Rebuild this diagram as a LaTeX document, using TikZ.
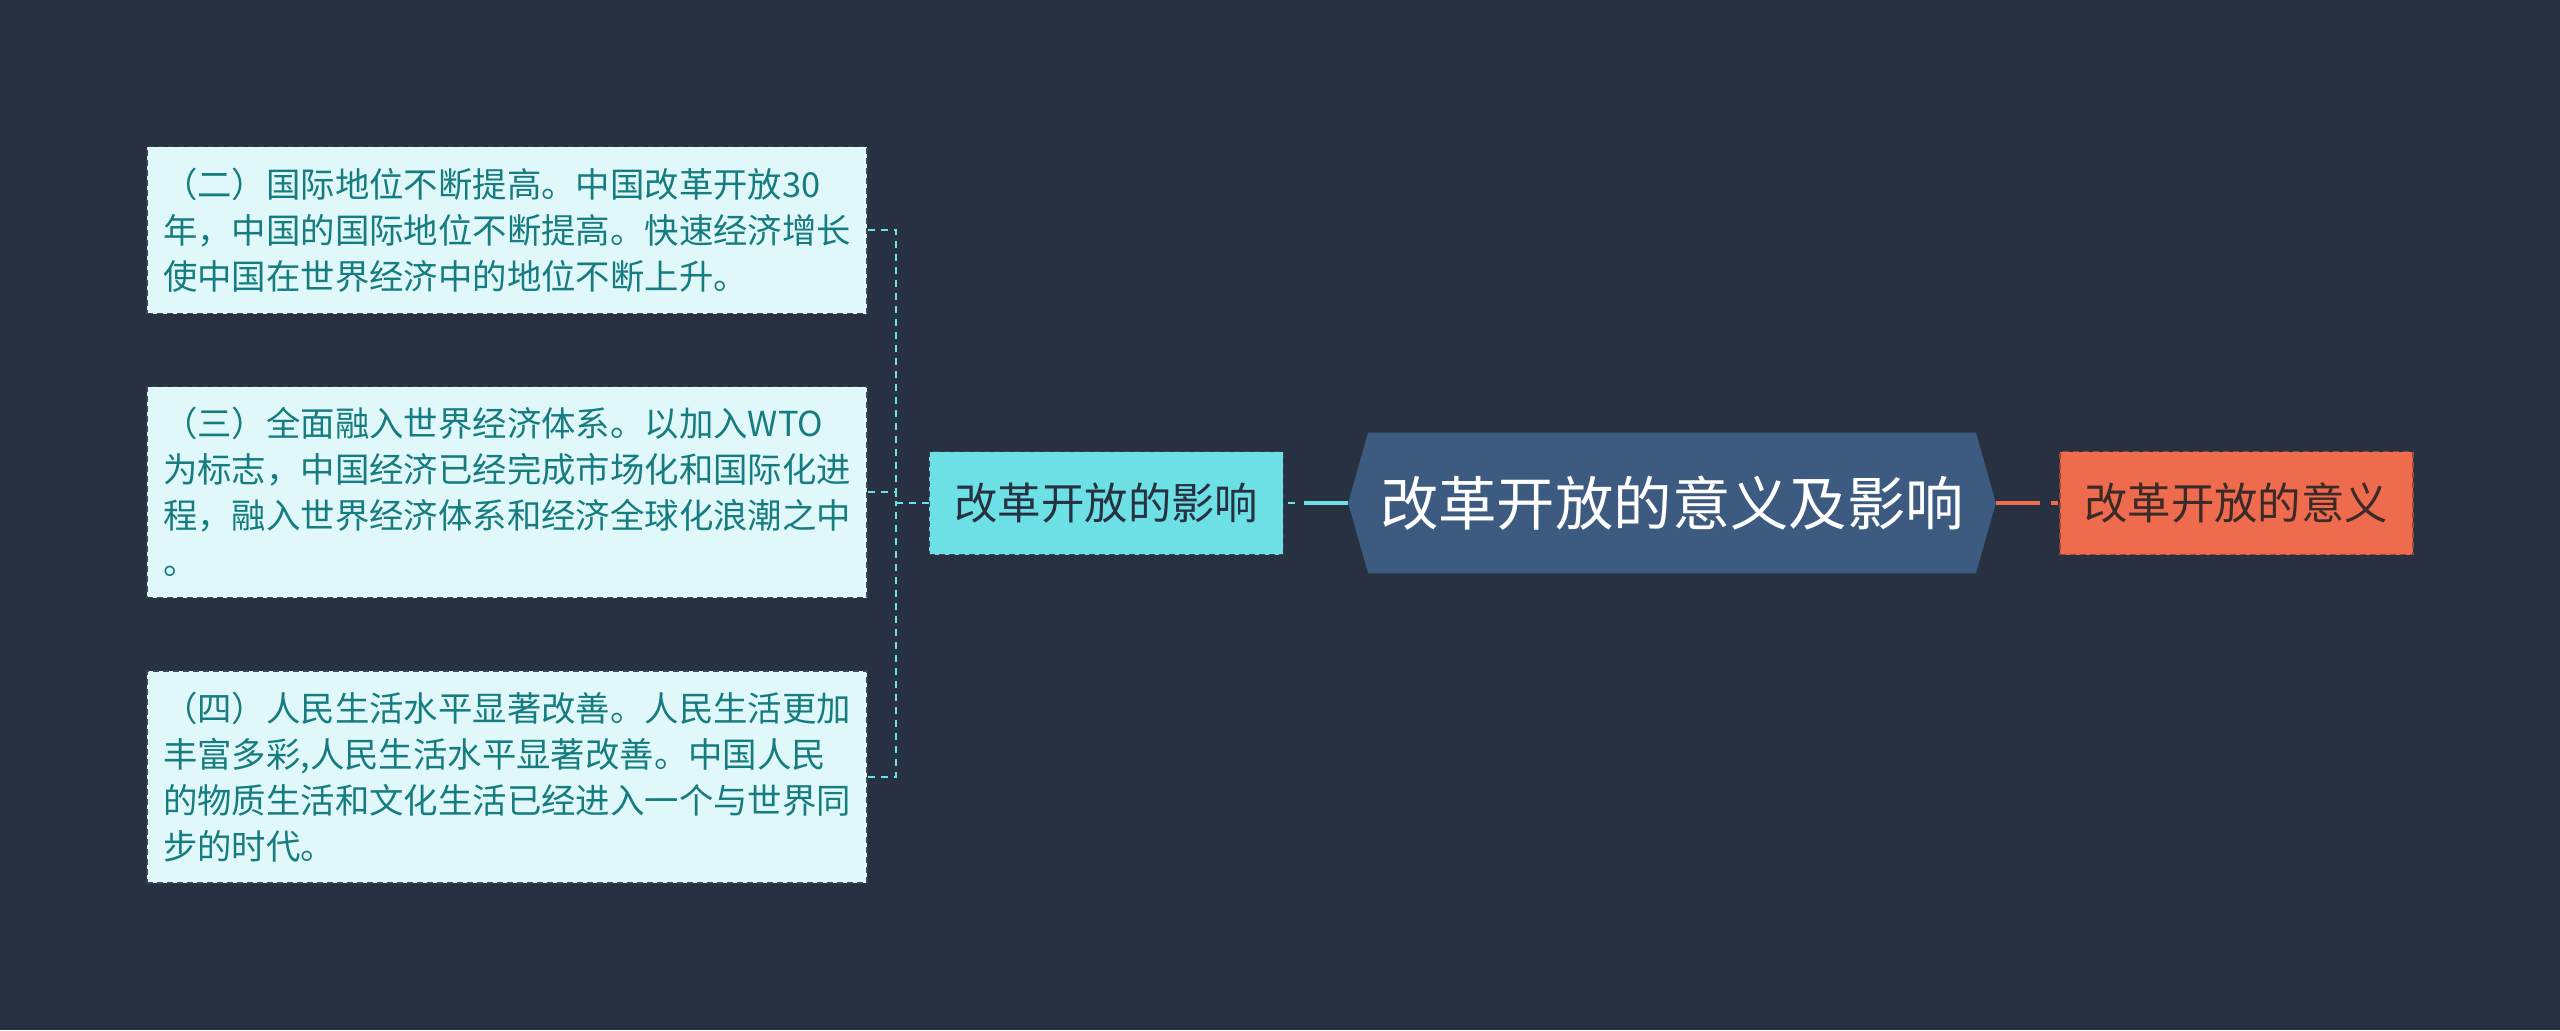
\documentclass[tikz,border=0pt]{standalone}
\usepackage{fontspec}
\setmainfont{Noto Sans CJK SC}
\usetikzlibrary{positioning,backgrounds}
\definecolor{bgnavy}{RGB}{40,49,66}
\definecolor{leafcol}{RGB}{224,248,249}
\definecolor{leaftext}{RGB}{22,124,128}
\definecolor{leafline}{RGB}{58,70,86}
\definecolor{cyancol}{RGB}{108,224,228}
\definecolor{hubcol}{RGB}{61,90,128}
\definecolor{orangecol}{RGB}{238,108,77}
\definecolor{orangetext}{RGB}{58,42,40}

\begin{document}
\begin{tikzpicture}[x=0.5pt,y=-0.5pt,
  leafb/.style={rectangle,draw=leafline,fill=leafcol,text=leaftext,line width=0.8pt,
    dash pattern=on 3pt off 2pt,align=left,text width=344pt,inner xsep=8pt,inner ysep=0pt,
    font=\fontsize{17.2}{22.9}\selectfont},
  branchb/.style={rectangle,draw=leafline,fill=cyancol,text=bgnavy,line width=0.8pt,
    dash pattern=on 3pt off 2pt,minimum width=177pt,minimum height=51.5pt,
    font=\fontsize{21.7}{26}\selectfont},
  rightb/.style={rectangle,draw=orangecol!65!black,fill=orangecol,text=orangetext,line width=0.8pt,
    dash pattern=on 3pt off 2pt,minimum width=176.5pt,minimum height=51.5pt,
    font=\fontsize{21.7}{26}\selectfont},
  hubb/.style={rectangle,text=white,minimum width=323.5pt,minimum height=70pt,
    font=\fontsize{29.2}{34}\selectfont},
  brk/.style={draw=cyancol,line width=0.8pt,dash pattern=on 3.5pt off 3pt},
  cyanline/.style={draw=cyancol,line width=2.2pt},
  orline/.style={draw=orangecol,line width=2pt},
]
\useasboundingbox (0,0) rectangle (2560,1030);

% centre and the two branches
\node[hubb] (hub) at (1672,503) {改革开放的意义及影响};
\node[branchb, left=32pt of hub] (impact) {改革开放的影响};
\node[rightb, right=31.5pt of hub] (meaning) {改革开放的意义};

% leaves
\node[leafb, minimum height=83.5pt] (lf2) at (507,230) {（二）国际地位不断提高。中国改革开放30\\年，中国的国际地位不断提高。快速经济增长\\使中国在世界经济中的地位不断上升。};
\node[leafb, minimum height=105.5pt] (lf3) at (507,492) {（三）全面融入世界经济体系。以加入WTO\\为标志，中国经济已经完成市场化和国际化进\\程，融入世界经济体系和经济全球化浪潮之中\\。};
\node[leafb, minimum height=106pt] (lf4) at (507,777) {（四）人民生活水平显著改善。人民生活更加\\丰富多彩,人民生活水平显著改善。中国人民\\的物质生活和文化生活已经进入一个与世界同\\步的时代。};

\coordinate (bk) at (896,503);
\coordinate (c1) at (1304,503);
\coordinate (c2) at (2040,503);

\draw[brk] (lf2.east) -| (bk);
\draw[brk] (lf3.east) -| (bk);
\draw[brk] (lf4.east) -| (bk);
\draw[brk] (bk) -- (impact.west);
\draw[brk, dash pattern=on 0pt off 2pt on 3.5pt off 4pt] (impact.east) -- (c1);
\draw[cyanline] (c1) -- (hub.west);
\draw[orline] (hub.east) -- (c2);
\draw[orline, dash pattern=on 3.5pt off 5.5pt, dash phase=3.5pt] (c2) -- (meaning.west);

\begin{scope}[on background layer]
  \fill[bgnavy] (0,0) rectangle (2560,1030);
  \fill[hubcol] (hub.west) -- ([xshift=10pt]hub.north west) -- ([xshift=-10pt]hub.north east)
    -- (hub.east) -- ([xshift=-10pt]hub.south east) -- ([xshift=10pt]hub.south west) -- cycle;
\end{scope}
\end{tikzpicture}
\end{document}
